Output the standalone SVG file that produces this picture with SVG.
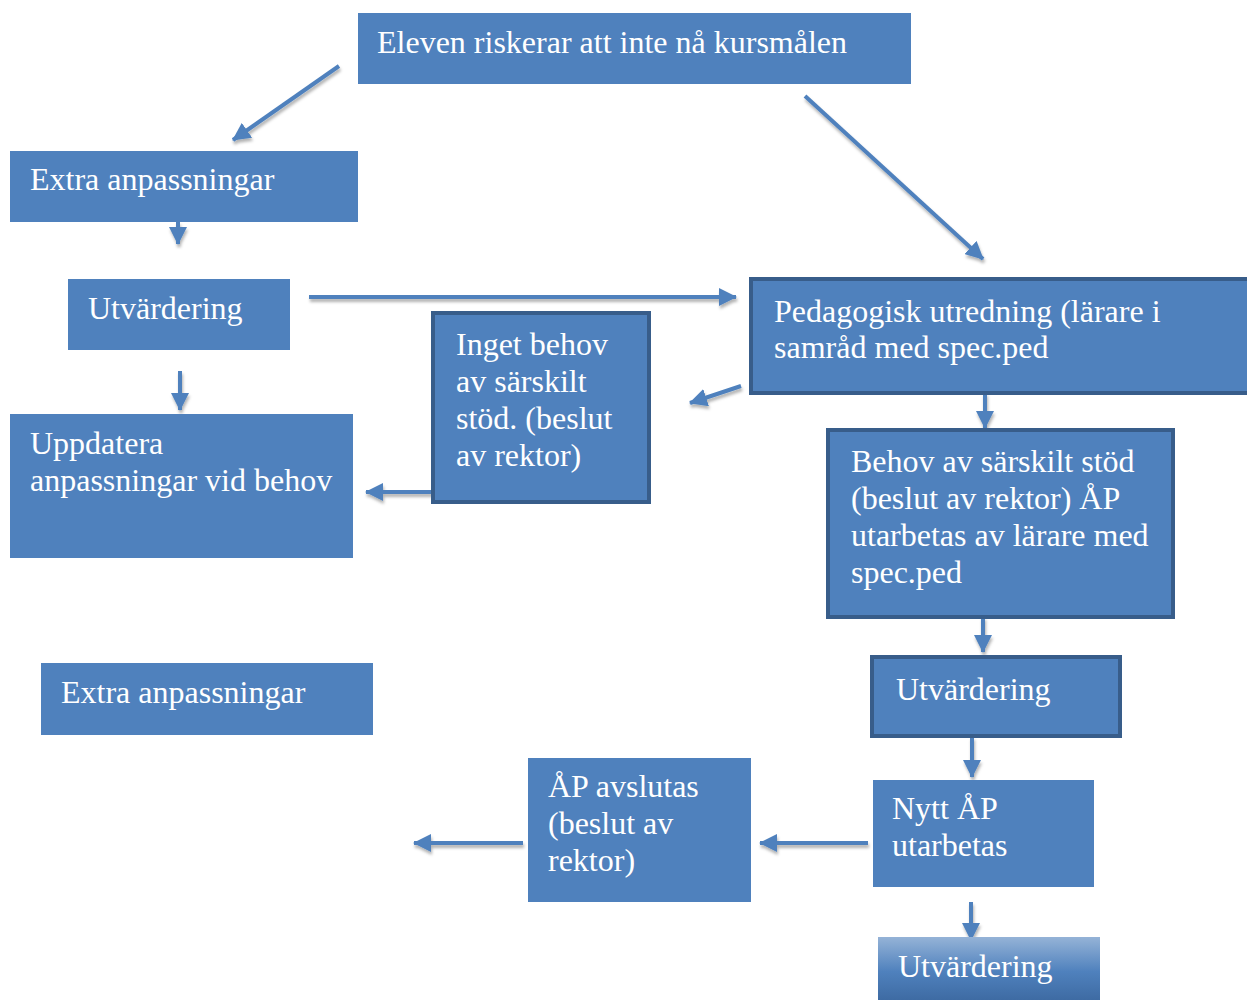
<svg xmlns="http://www.w3.org/2000/svg" width="1247" height="1000" viewBox="0 0 1247 1000">
<defs>
<style>
.box{fill:#4F81BD}
.bord{fill:#4F81BD;stroke:#385D8A;stroke-width:4}
.t{font-family:"Liberation Serif","Times New Roman",serif;font-size:32px;fill:#FFFFFF}
.c{stroke:#4F81BD;stroke-width:4;fill:none;marker-end:url(#ah)}
</style>
<marker id="ah" markerUnits="userSpaceOnUse" markerWidth="20" markerHeight="18" refX="17" refY="9" orient="auto">
<path d="M0,0 L18,9 L0,18 Z" fill="#4F81BD"/>
</marker>
<filter id="sh" filterUnits="userSpaceOnUse" x="0" y="0" width="1247" height="1000">
<feDropShadow dx="1" dy="3" stdDeviation="1.5" flood-color="#000" flood-opacity="0.3"/>
</filter>
<linearGradient id="gr" x1="0" y1="0" x2="0" y2="1">
<stop offset="0" stop-color="#95B3D7"/>
<stop offset="0.55" stop-color="#4F81BD"/>
<stop offset="1" stop-color="#3E6BA3"/>
</linearGradient>
</defs>
<rect width="1247" height="1000" fill="#FFFFFF"/>

<g id="connectors" filter="url(#sh)">
<line class="c" x1="339" y1="66" x2="233" y2="140"/>
<line class="c" x1="805" y1="96" x2="983" y2="259"/>
<line class="c" x1="178" y1="222" x2="178" y2="244"/>
<line class="c" x1="309" y1="297" x2="736" y2="297"/>
<line class="c" x1="180" y1="371" x2="180" y2="410"/>
<line class="c" x1="741" y1="386" x2="690" y2="403"/>
<line class="c" x1="433" y1="492" x2="366" y2="492"/>
<line class="c" x1="985" y1="393" x2="985" y2="428"/>
<line class="c" x1="983" y1="617" x2="983" y2="652"/>
<line class="c" x1="972" y1="737" x2="972" y2="777"/>
<line class="c" x1="868" y1="843" x2="760" y2="843"/>
<line class="c" x1="523" y1="843" x2="414" y2="843"/>
<line class="c" x1="971" y1="902" x2="971" y2="940"/>
</g>

<g id="n1">
<rect class="box" x="358" y="13" width="553" height="71"/>
<text class="t" x="377" y="53">Eleven riskerar att inte nå kursmålen</text>
</g>
<g id="n2">
<rect class="box" x="10" y="151" width="348" height="71"/>
<text class="t" x="30" y="190">Extra anpassningar</text>
</g>
<g id="n3">
<rect class="box" x="68" y="279" width="222" height="71"/>
<text class="t" x="88" y="319">Utvärdering</text>
</g>
<g id="n4">
<rect class="box" x="10" y="414" width="343" height="144"/>
<text class="t" x="30" y="454">Uppdatera</text>
<text class="t" x="30" y="491">anpassningar vid behov</text>
</g>
<g id="n5">
<rect class="bord" x="433" y="313" width="216" height="189"/>
<text class="t" x="456" y="355">Inget behov</text>
<text class="t" x="456" y="392">av särskilt</text>
<text class="t" x="456" y="429">stöd. (beslut</text>
<text class="t" x="456" y="466">av rektor)</text>
</g>
<g id="n6">
<rect class="bord" x="751" y="279" width="500" height="114"/>
<text class="t" x="774" y="322">Pedagogisk utredning (lärare i</text>
<text class="t" x="774" y="358">samråd med spec.ped</text>
</g>
<g id="n7">
<rect class="bord" x="828" y="430" width="345" height="187"/>
<text class="t" x="851" y="472">Behov av särskilt stöd</text>
<text class="t" x="851" y="509">(beslut av rektor) ÅP</text>
<text class="t" x="851" y="546">utarbetas av lärare med</text>
<text class="t" x="851" y="583">spec.ped</text>
</g>
<g id="n8">
<rect class="box" x="41" y="663" width="332" height="72"/>
<text class="t" x="61" y="703">Extra anpassningar</text>
</g>
<g id="n9">
<rect class="bord" x="872" y="657" width="248" height="79"/>
<text class="t" x="896" y="700">Utvärdering</text>
</g>
<g id="n10">
<rect class="box" x="873" y="780" width="221" height="107"/>
<text class="t" x="892" y="819">Nytt ÅP</text>
<text class="t" x="892" y="856">utarbetas</text>
</g>
<g id="n11">
<rect class="box" x="528" y="758" width="223" height="144"/>
<text class="t" x="548" y="797">ÅP avslutas</text>
<text class="t" x="548" y="834">(beslut av</text>
<text class="t" x="548" y="871">rektor)</text>
</g>
<g id="n12">
<rect x="878" y="937" width="222" height="63" fill="url(#gr)"/>
<text class="t" x="898" y="977">Utvärdering</text>
</g>
</svg>
